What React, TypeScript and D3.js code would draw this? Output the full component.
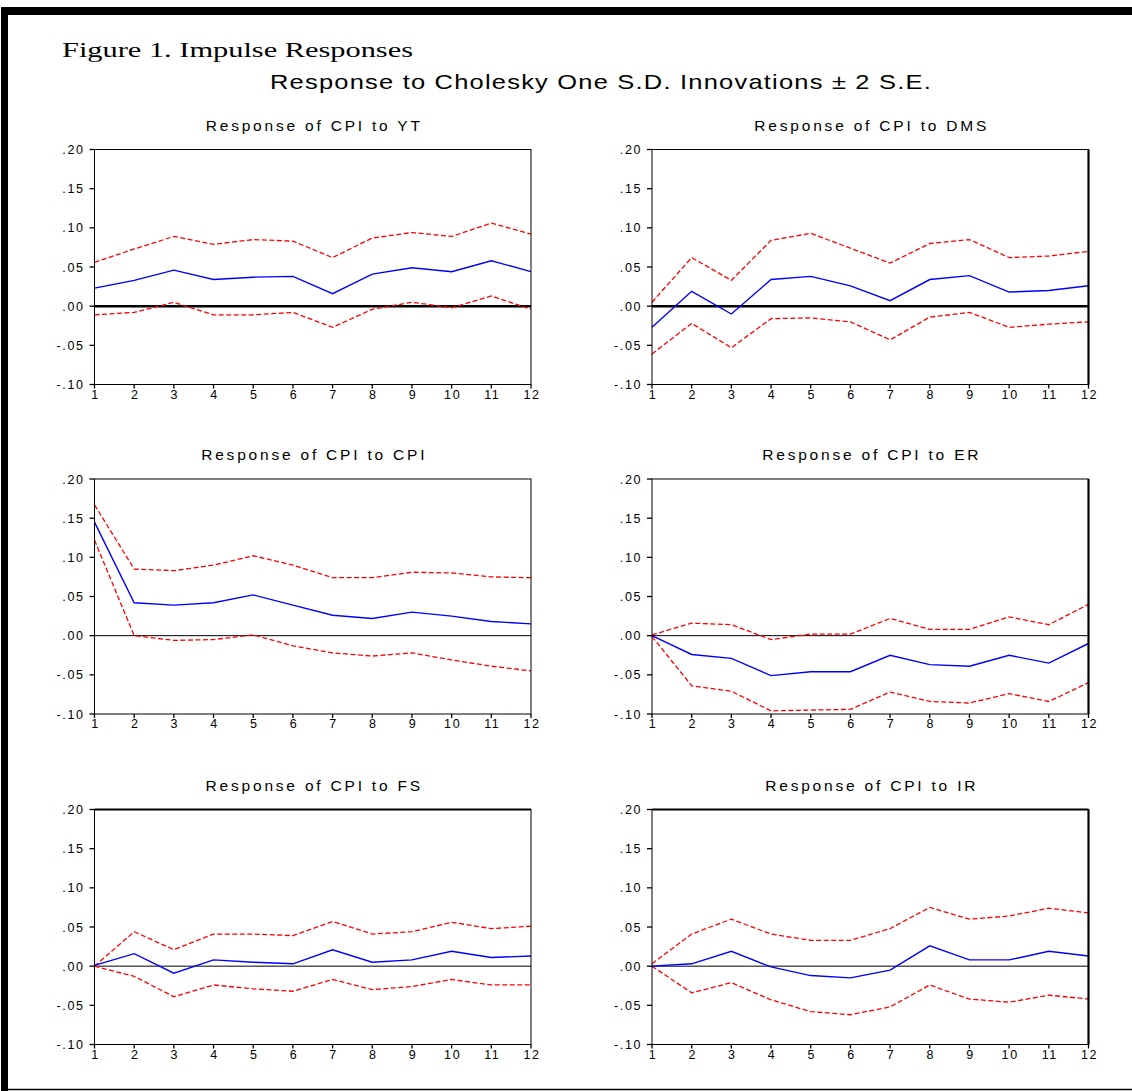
import React from "react";
import * as d3 from "d3";

const periods = [1, 2, 3, 4, 5, 6, 7, 8, 9, 10, 11, 12];
const yTicks = [0.2, 0.15, 0.1, 0.05, 0.0, -0.05, -0.1];
const yTickLabels = [".20", ".15", ".10", ".05", ".00", "-.05", "-.10"];

const titles = [
  "Response of CPI to YT",
  "Response of CPI to DMS",
  "Response of CPI to CPI",
  "Response of CPI to ER",
  "Response of CPI to FS",
  "Response of CPI to IR",
];

// Response of CPI to YT
const ytMid = [0.023, 0.033, 0.046, 0.034, 0.037, 0.038, 0.016, 0.041, 0.049, 0.044, 0.058, 0.044];
const ytUp = [0.056, 0.073, 0.089, 0.079, 0.085, 0.083, 0.062, 0.087, 0.094, 0.089, 0.106, 0.092];
const ytLo = [-0.011, -0.008, 0.005, -0.011, -0.011, -0.008, -0.027, -0.004, 0.005, -0.002, 0.013, -0.004];

// Response of CPI to DMS
const dmsMid = [-0.027, 0.019, -0.01, 0.034, 0.038, 0.026, 0.007, 0.034, 0.039, 0.018, 0.02, 0.026];
const dmsUp = [0.005, 0.062, 0.033, 0.084, 0.093, 0.074, 0.055, 0.08, 0.085, 0.062, 0.064, 0.07];
const dmsLo = [-0.061, -0.022, -0.053, -0.016, -0.015, -0.02, -0.043, -0.014, -0.008, -0.027, -0.023, -0.02];

// Response of CPI to CPI
const cpiMid = [0.145, 0.042, 0.039, 0.042, 0.052, 0.039, 0.026, 0.022, 0.03, 0.025, 0.018, 0.015];
const cpiUp = [0.167, 0.085, 0.083, 0.09, 0.102, 0.09, 0.074, 0.074, 0.081, 0.08, 0.075, 0.074];
const cpiLo = [0.122, 0.0, -0.006, -0.005, 0.001, -0.013, -0.022, -0.026, -0.022, -0.031, -0.039, -0.045];

// Response of CPI to ER
const erMid = [0.0, -0.024, -0.029, -0.051, -0.046, -0.046, -0.025, -0.037, -0.039, -0.025, -0.035, -0.01];
const erUp = [0.001, 0.016, 0.014, -0.005, 0.002, 0.002, 0.022, 0.008, 0.008, 0.024, 0.014, 0.04];
const erLo = [-0.001, -0.064, -0.071, -0.096, -0.095, -0.094, -0.072, -0.084, -0.086, -0.074, -0.084, -0.06];

// Response of CPI to FS
const fsMid = [0.001, 0.016, -0.009, 0.008, 0.005, 0.003, 0.021, 0.005, 0.008, 0.019, 0.011, 0.013];
const fsUp = [0.0, 0.044, 0.021, 0.041, 0.041, 0.039, 0.057, 0.041, 0.044, 0.056, 0.048, 0.051];
const fsLo = [0.0, -0.013, -0.039, -0.024, -0.029, -0.032, -0.017, -0.03, -0.026, -0.017, -0.024, -0.024];

// Response of CPI to IR
const irMid = [0.0, 0.003, 0.019, -0.001, -0.012, -0.015, -0.005, 0.026, 0.008, 0.008, 0.019, 0.013];
const irUp = [0.003, 0.041, 0.06, 0.041, 0.033, 0.033, 0.048, 0.075, 0.06, 0.064, 0.074, 0.068];
const irLo = [0.0, -0.034, -0.021, -0.043, -0.058, -0.062, -0.052, -0.024, -0.042, -0.046, -0.037, -0.042];

const panelData = [
  { mid: ytMid, up: ytUp, lo: ytLo },
  { mid: dmsMid, up: dmsUp, lo: dmsLo },
  { mid: cpiMid, up: cpiUp, lo: cpiLo },
  { mid: erMid, up: erUp, lo: erLo },
  { mid: fsMid, up: fsUp, lo: fsLo },
  { mid: irMid, up: irUp, lo: irLo },
];

const W = 1132;
const H = 1091;
const colLeft = [94.5, 652];
const plotW = 436.5;
const rowTop = [149.5, 479, 809.5];
const plotH = 235;
const sansFont = "'Liberation Sans', Arial, sans-serif";

function Panel({ idx }: { idx: number }) {
  const col = idx % 2;
  const row = Math.floor(idx / 2);
  const x0 = colLeft[col];
  const y0 = rowTop[row];
  const x = d3.scaleLinear().domain([1, 12]).range([x0, x0 + plotW]);
  const y = d3.scaleLinear().domain([-0.1, 0.2]).range([y0 + plotH, y0]);
  const line = d3
    .line<number>()
    .x((_, i) => x(periods[i]))
    .y((v) => y(v));
  const data = panelData[idx];
  const zeroW = row === 0 ? 2.5 : 1;
  return (
    <g>
      <text
        x={x0 + plotW / 2 + 1.5}
        y={y0 - 19}
        textAnchor="middle"
        fontFamily={sansFont}
        fontSize={15.5}
        letterSpacing={2.8}
        fill="#000"
      >
        {titles[idx]}
      </text>
      {/* zero line */}
      <line x1={x0} x2={x0 + plotW} y1={y(0)} y2={y(0)} stroke="#000" strokeWidth={zeroW} />
      {/* confidence bands */}
      <path d={line(data.up) || ""} fill="none" stroke="#ff0000" strokeWidth={1.3} strokeDasharray="5 2.5" />
      <path d={line(data.lo) || ""} fill="none" stroke="#ff0000" strokeWidth={1.3} strokeDasharray="5 2.5" />
      {/* response */}
      <path d={line(data.mid) || ""} fill="none" stroke="#0000ff" strokeWidth={1.4} />
      {/* frame */}
      <rect x={x0} y={y0} width={plotW} height={plotH} fill="none" stroke="#000" strokeWidth={1} />
      {col === 1 && (
        <line x1={x0 + plotW} x2={x0 + plotW} y1={y0} y2={y0 + plotH} stroke="#000" strokeWidth={2.2} />
      )}
      {row === 2 && (
        <line x1={x0} x2={x0 + plotW} y1={y0} y2={y0} stroke="#000" strokeWidth={2} />
      )}
      {/* y ticks */}
      {yTicks.map((t, i) => (
        <g key={"y" + i}>
          <line x1={x0 - 5} x2={x0} y1={y(t)} y2={y(t)} stroke="#000" strokeWidth={1.3} />
          <text
            x={x0 - 10}
            y={y(t)}
            dy="0.36em"
            textAnchor="end"
            fontFamily={sansFont}
            fontSize={12.5}
            letterSpacing={1.6}
            fill="#000"
          >
            {yTickLabels[i]}
          </text>
        </g>
      ))}
      {/* x ticks */}
      {periods.map((p) => (
        <g key={"x" + p}>
          <line x1={x(p)} x2={x(p)} y1={y0 + plotH} y2={y0 + plotH + 4} stroke="#000" strokeWidth={1.3} />
          <text
            x={x(p) + 1}
            y={y0 + plotH + 14}
            textAnchor="middle"
            fontFamily={sansFont}
            fontSize={12.5}
            letterSpacing={1.6}
            fill="#000"
          >
            {String(p)}
          </text>
        </g>
      ))}
    </g>
  );
}

export default function App() {
  return (
    <div style={{ position: "absolute", left: 0, top: 0, width: W, height: H, background: "#fff" }}>
      <svg width={W} height={H} viewBox={`0 0 ${W} ${H}`} style={{ display: "block" }}>
        <rect x={0} y={0} width={W} height={H} fill="#fff" />
        {/* outer frame */}
        <rect x={1} y={7} width={W - 1} height={8} fill="#000" />
        <rect x={1} y={7} width={7} height={H - 7} fill="#000" />
        <line x1={1} x2={W} y1={1089.5} y2={1089.5} stroke="#000" strokeWidth={1.5} />
        <text
          x={62}
          y={57}
          fontFamily="'Liberation Serif', 'Times New Roman', serif"
          fontSize={22}
          textLength={351}
          lengthAdjust="spacingAndGlyphs"
          fill="#000"
        >
          Figure 1. Impulse Responses
        </text>
        <text
          x={270}
          y={89}
          fontFamily={sansFont}
          fontSize={21}
          letterSpacing={1}
          textLength={662}
          lengthAdjust="spacingAndGlyphs"
          fill="#000"
        >
          Response to Cholesky One S.D. Innovations ± 2 S.E.
        </text>
        {titles.map((_, i) => (
          <Panel key={i} idx={i} />
        ))}
      </svg>
    </div>
  );
}
